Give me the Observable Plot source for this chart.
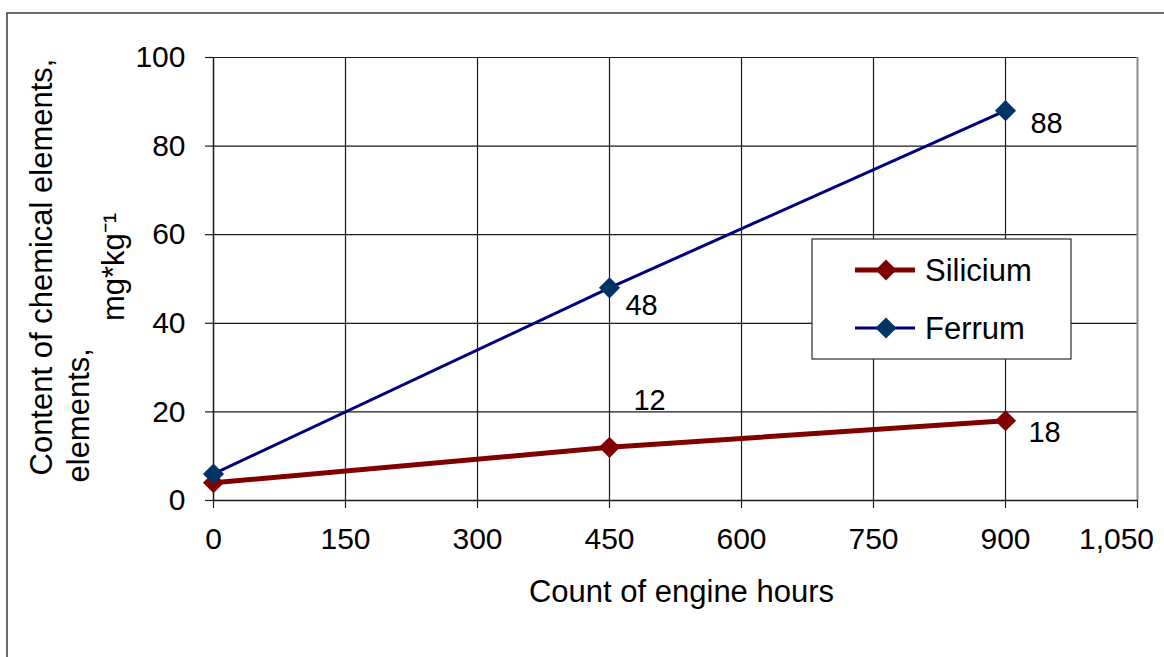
<!DOCTYPE html>
<html><head><meta charset="utf-8">
<script src="https://cdn.jsdelivr.net/npm/d3@7"></script>
<script src="https://cdn.jsdelivr.net/npm/@observablehq/plot@0.6"></script>
<style>
body{margin:0;background:#fff;}
#chart{position:relative;width:1164px;height:657px;overflow:hidden;}
</style>
</head><body><div id="chart"></div>
<script>
const hours = [0, 450, 900];
const silicium = [4, 12, 18];
const ferrum = [6, 48, 88];
const xTicks = [0, 150, 300, 450, 600, 750, 900, 1050];
const yTicks = [0, 20, 40, 60, 80, 100];
const seriesNames = ["Silicium", "Ferrum"];
const seriesColors = ["#800000", "#000080"];
const markerColors = ["#800000", "#003366"];
const xTitle = "Count of engine hours";
const yTitleLines = ["Content of chemical elements,", "elements,", "mg*kg\u207B\u00B9"];

const si = hours.map((h, i) => ({x: h, y: silicium[i]}));
const fe = hours.map((h, i) => ({x: h, y: ferrum[i]}));
const fmt = d3.format(",");
const FONT = "Liberation Sans, Arial, sans-serif";

const plot = Plot.plot({
  width: 1164, height: 657,
  marginLeft: 213, marginRight: 27, marginTop: 57, marginBottom: 157,
  x: {domain: [0, 1050], axis: null},
  y: {domain: [0, 100], axis: null},
  style: {fontFamily: FONT, fontSize: "30px", color: "#000", background: "#fff", overflow: "visible"},
  marks: [
    Plot.ruleY(yTicks.filter(d => d > 0), {stroke: "#1a1a1a", strokeWidth: 1.2}),
    Plot.ruleX(xTicks.filter(d => d > 0 && d < 1050), {stroke: "#1a1a1a", strokeWidth: 1.2}),
    Plot.ruleX([1050], {stroke: "#8a8a8a", strokeWidth: 2}),
    Plot.axisX({ticks: xTicks, tickSize: 8, tickFormat: () => "", label: null, stroke: "#1a1a1a", strokeWidth: 1.2}),
    Plot.axisY({ticks: yTicks, tickSize: 8, tickFormat: () => "", label: null, stroke: "#1a1a1a", strokeWidth: 1.2}),
    Plot.ruleY([0], {stroke: "#1a1a1a", strokeWidth: 1.5}),
    Plot.ruleX([0], {stroke: "#1a1a1a", strokeWidth: 1.5}),
    // tick labels
    Plot.text(xTicks.filter(d => d < 1050), {x: d => d, text: d => fmt(d), frameAnchor: "bottom", dy: 48, fontSize: 30}),
    Plot.text(xTicks.filter(d => d === 1050), {x: d => d, text: d => fmt(d), frameAnchor: "bottom", dy: 48, dx: -21, fontSize: 30}),
    Plot.text(yTicks, {y: d => d, text: d => String(d), frameAnchor: "left", textAnchor: "end", dx: -28, fontSize: 30}),
    // axis titles
    Plot.text([xTitle], {text: d => d, frameAnchor: "bottom", dy: 101, dx: 6, fontSize: 31}),
    Plot.text([yTitleLines[0]], {text: d => d, frameAnchor: "left", textAnchor: "middle", dx: -171, dy: -12, rotate: -90, fontSize: 31}),
    Plot.text([yTitleLines[1]], {text: d => d, frameAnchor: "bottom-left", dx: -125, dy: -18, rotate: -90, textAnchor: "start", fontSize: 31}),
    Plot.text([yTitleLines[2]], {text: d => d, frameAnchor: "left", textAnchor: "middle", dx: -99, dy: -12, rotate: -90, fontSize: 31}),
    // series
    Plot.line(si, {x: "x", y: "y", stroke: seriesColors[0], strokeWidth: 5}),
    Plot.dot(si, {x: "x", y: "y", symbol: "diamond2", r: 9.5, fill: markerColors[0], stroke: "none"}),
    Plot.line(fe, {x: "x", y: "y", stroke: seriesColors[1], strokeWidth: 3}),
    Plot.dot(fe, {x: "x", y: "y", symbol: "diamond2", r: 9.5, fill: markerColors[1], stroke: "none"}),
    // value labels
    Plot.text(si.filter(d => d.x === 450), {x: "x", y: "y", text: d => String(d.y), dx: 40, dy: -47, fontSize: 29}),
    Plot.text(si.filter(d => d.x === 900), {x: "x", y: "y", text: d => String(d.y), dx: 39, dy: 12, fontSize: 29}),
    Plot.text(fe.filter(d => d.x === 450), {x: "x", y: "y", text: d => String(d.y), dx: 32, dy: 18, fontSize: 29}),
    Plot.text(fe.filter(d => d.x === 900), {x: "x", y: "y", text: d => String(d.y), dx: 41, dy: 13, fontSize: 29})
  ]
});

document.getElementById("chart").appendChild(plot);
const svg = d3.select(plot);
// outer chart border
svg.insert("rect", ":first-child")
  .attr("x", 7).attr("y", 13).attr("width", 1180).attr("height", 700)
  .attr("fill", "none").attr("stroke", "#3a3a3a").attr("stroke-width", 1.5);

// legend
const lg = svg.append("g").attr("transform", "translate(812,239)");
lg.append("rect").attr("x", 0).attr("y", 0).attr("width", 259).attr("height", 120)
  .attr("fill", "#fff").attr("stroke", "#2a2a2a").attr("stroke-width", 1.2);
const sym = d3.symbol().type(d3.symbolDiamond2).size(Math.PI * 9.5 * 9.5)();
seriesNames.forEach((name, i) => {
  const gy = i === 0 ? 31 : 89;
  const row = lg.append("g").attr("transform", `translate(0,${gy})`);
  row.append("line").attr("x1", 43).attr("x2", 103).attr("y1", 0).attr("y2", 0)
    .attr("stroke", seriesColors[i]).attr("stroke-width", i === 0 ? 5 : 3);
  row.append("path").attr("d", sym).attr("transform", "translate(74,0)").attr("fill", markerColors[i]);
  row.append("text").attr("x", 113).attr("y", 0).attr("dy", "0.35em")
    .attr("text-anchor", "start")
    .attr("font-family", FONT).attr("font-size", 31).attr("fill", "#000").text(name);
});
</script>
</body></html>
